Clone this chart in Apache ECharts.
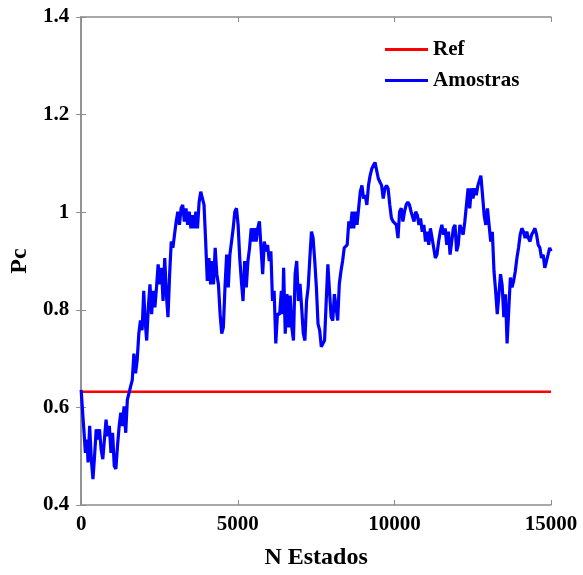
<!DOCTYPE html>
<html>
<head>
<meta charset="utf-8">
<script src="https://cdn.jsdelivr.net/npm/echarts@6/dist/echarts.min.js"></script>
<style>
  html, body { margin: 0; padding: 0; background: #fff; }
  #chart { width: 583px; height: 575px; }
</style>
</head>
<body>
<div id="chart"></div>
<script>
// reference level
const refLevel = 0.632;

const nStates = [
  0, 63, 94, 136, 188, 220, 272, 324, 377, 429, 481, 534, 586, 638, 691, 743, 795, 847, 900, 952,
  1004, 1057, 1109, 1161, 1214, 1266, 1318, 1370, 1423, 1475, 1527, 1580, 1632, 1684, 1737, 1789, 1841, 1893, 1946, 1998,
  2040, 2092, 2145, 2197, 2249, 2302, 2354, 2406, 2458, 2511, 2563, 2615, 2668, 2720, 2772, 2825, 2877, 2929, 2981, 3034,
  3086, 3138, 3191, 3243, 3295, 3348, 3400, 3452, 3504, 3557, 3609, 3661, 3714, 3766, 3818, 3871, 3923, 3975, 4027, 4080, 4132,
  4174, 4226, 4279, 4331, 4383, 4436, 4488, 4540, 4592, 4645, 4697, 4749, 4802, 4854, 4906, 4959, 5011, 5063, 5115, 5168,
  5220, 5272, 5325, 5377, 5429, 5482, 5534, 5586, 5638, 5691, 5743, 5795, 5848, 5900, 5952, 6005, 6057, 6109, 6161, 6214, 6266,
  6338, 6391, 6433, 6464, 6516, 6569, 6621, 6673, 6725, 6778, 6830, 6882, 6935, 6987, 7039, 7092, 7144, 7196, 7248, 7301,
  7353, 7405, 7458, 7510, 7562, 7615, 7667, 7719, 7771, 7824, 7876, 7928, 7981, 8033, 8085, 8138, 8190, 8242, 8294, 8347, 8399,
  8493, 8546, 8598, 8650, 8702, 8755, 8807, 8859, 8912, 8964, 9016, 9069, 9121, 9173, 9226, 9278, 9330, 9382, 9435, 9487,
  9539, 9592, 9644, 9696, 9749, 9801, 9853, 9905, 9958, 10010, 10062, 10115, 10167, 10219, 10272, 10324, 10376, 10428, 10481, 10533,
  10627, 10680, 10732, 10784, 10837, 10889, 10941, 10993, 11046, 11098, 11150, 11203, 11255, 11307, 11360, 11412, 11464, 11516, 11569, 11621,
  11673, 11726, 11778, 11830, 11883, 11935, 11987, 12039, 12092, 12144, 12196, 12249, 12301, 12353, 12406, 12458, 12510, 12562, 12615, 12667,
  12761, 12814, 12866, 12918, 12971, 13023, 13075, 13127, 13180, 13232, 13284, 13337, 13389, 13441, 13494, 13546, 13598, 13650, 13703, 13755,
  13807, 13860, 13912, 13964, 14017, 14069, 14121, 14173, 14226, 14278, 14330, 14383, 14435, 14487, 14540, 14592, 14644, 14696, 14749, 14801,
  14853, 14906, 14958, 15000
];

const pcSamples = [
  0.636, 0.575, 0.548, 0.507, 0.534, 0.487, 0.562, 0.494, 0.453, 0.501, 0.555, 0.534, 0.555, 0.514, 0.494, 0.534, 0.575, 0.541, 0.562, 0.507,
  0.548, 0.480, 0.474, 0.521, 0.562, 0.589, 0.562, 0.602, 0.548, 0.616, 0.629, 0.643, 0.656, 0.710, 0.670, 0.697, 0.751, 0.778, 0.758, 0.839,
  0.780, 0.737, 0.805, 0.852, 0.791, 0.839, 0.805, 0.846, 0.893, 0.852, 0.886, 0.818, 0.906, 0.832, 0.785, 0.873, 0.940, 0.927, 0.954, 0.981,
  1.001, 0.974, 1.008, 1.015, 0.981, 1.008, 0.974, 1.001, 0.967, 0.994, 0.967, 1.001, 0.967, 1.021, 1.042, 1.038, 1.015, 0.940, 0.859, 0.906, 0.852,
  0.900, 0.852, 0.927, 0.873, 0.852, 0.791, 0.751, 0.764, 0.846, 0.913, 0.846, 0.913, 0.940, 0.967, 1.001, 1.008, 0.974, 0.906, 0.859, 0.818,
  0.900, 0.846, 0.900, 0.927, 0.967, 0.940, 0.967, 0.940, 0.967, 0.981, 0.927, 0.873, 0.940, 0.920, 0.933, 0.900, 0.920, 0.818, 0.839, 0.731, 0.791,
  0.791, 0.839, 0.791, 0.886, 0.751, 0.832, 0.764, 0.829, 0.764, 0.737, 0.873, 0.900, 0.818, 0.853, 0.805, 0.751, 0.737, 0.818, 0.846, 0.906,
  0.960, 0.947, 0.900, 0.846, 0.771, 0.758, 0.724, 0.731, 0.737, 0.818, 0.893, 0.839, 0.785, 0.778, 0.832, 0.805, 0.778, 0.853, 0.879, 0.900, 0.927,
  0.933, 0.981, 0.967, 1.001, 0.967, 1.001, 0.974, 1.008, 1.042, 1.055, 1.028, 1.035, 1.015, 1.055, 1.075, 1.089, 1.096, 1.102, 1.099, 1.069,
  1.062, 1.055, 1.028, 1.048, 1.055, 1.048, 1.015, 0.988, 0.981, 0.981, 0.974, 0.947, 1.001, 1.008, 0.981, 1.001, 1.015, 1.021, 1.015, 1.001,
  0.981, 1.001, 0.994, 0.974, 0.987, 0.960, 0.974, 0.940, 0.960, 0.933, 0.967, 0.947, 0.927, 0.906, 0.913, 0.940, 0.960, 0.974, 0.954, 0.967,
  0.933, 0.960, 0.913, 0.913, 0.967, 0.974, 0.920, 0.933, 0.974, 0.974, 0.954, 0.981, 1.015, 1.049, 1.008, 1.049, 1.028, 1.049, 1.035, 1.055,
  1.075, 1.035, 0.994, 0.974, 1.008, 0.974, 0.940, 0.960, 0.879, 0.839, 0.791, 0.832, 0.873, 0.850, 0.785, 0.832, 0.731, 0.798, 0.866, 0.846,
  0.859, 0.879, 0.906, 0.927, 0.954, 0.967, 0.960, 0.947, 0.960, 0.947, 0.940, 0.954, 0.960, 0.967, 0.954, 0.933, 0.927, 0.906, 0.913, 0.886,
  0.899, 0.913, 0.927, 0.920
];

const xTicks = [0, 5000, 10000, 15000];
const yTicks = [0.4, 0.6, 0.8, 1, 1.2, 1.4];

const chart = echarts.init(document.getElementById('chart'));

const font = 'Liberation Serif, Times New Roman, serif';
const frameColor = '#8c8c8c';

const axisText = { color: '#000', fontFamily: font, fontWeight: 'bold', fontSize: 21 };

chart.setOption({
    animation: false,
    backgroundColor: '#fff',
    grid: { left: 75, right: 32, top: 17, bottom: 62, containLabel: false },
    legend: {
        orient: 'vertical',
        left: 380,
        top: 34,
        itemWidth: 43,
        itemHeight: 3,
        itemGap: 10,
        icon: 'rect',
        textStyle: { ...axisText, fontSize: 21, padding: [0, 0, 0, 0] },
        data: ['Ref', 'Amostras']
    },
    xAxis: [{
        type: 'value',
        min: xTicks[0], max: xTicks[xTicks.length - 1], interval: 5000,
        name: 'N Estados',
        nameLocation: 'middle',
        nameGap: 41,
        nameTextStyle: { ...axisText, fontSize: 24 },
        axisLine: { show: true, lineStyle: { color: frameColor, width: 1.5 } },
        axisTick: { show: true, inside: true, length: 5, lineStyle: { color: frameColor } },
        axisLabel: { ...axisText, margin: 9, formatter: v => String(v) },
        splitLine: { show: false }
    }, {
        type: 'value',
        position: 'top',
        min: xTicks[0], max: xTicks[xTicks.length - 1], interval: 5000,
        axisLine: { show: true, lineStyle: { color: frameColor, width: 1.5 } },
        axisTick: { show: true, inside: true, length: 5, lineStyle: { color: frameColor } },
        axisLabel: { show: false },
        splitLine: { show: false }
    }],
    yAxis: [{
        type: 'value',
        min: yTicks[0], max: yTicks[yTicks.length - 1], interval: 0.2,
        name: 'Pc',
        nameLocation: 'middle',
        nameGap: 40,
        nameTextStyle: { ...axisText, fontSize: 24 },
        axisLine: { show: true, lineStyle: { color: frameColor, width: 1.5 } },
        axisTick: { show: true, inside: true, length: 5, lineStyle: { color: frameColor } },
        axisLabel: {
            ...axisText, margin: 12,
            formatter: v => String(Math.round(v * 10) / 10)
        },
        splitLine: { show: false }
    }, {
        type: 'value',
        position: 'right',
        min: yTicks[0], max: yTicks[yTicks.length - 1], interval: 0.2,
        axisLine: { show: true, lineStyle: { color: frameColor, width: 1.5 } },
        axisTick: { show: true, inside: true, length: 5, lineStyle: { color: frameColor } },
        axisLabel: { show: false },
        splitLine: { show: false }
    }],
    series: [{
        name: 'Ref',
        type: 'line',
        data: [[xTicks[0], refLevel], [xTicks[xTicks.length - 1], refLevel]],
        symbol: 'none',
        lineStyle: { color: '#ff0000', width: 2.5 },
        itemStyle: { color: '#ff0000' },
        z: 2
    }, {
        name: 'Amostras',
        type: 'line',
        data: nStates.map((x, i) => [x, pcSamples[i]]),
        symbol: 'none',
        lineStyle: { color: '#0000ff', width: 3.2 },
        itemStyle: { color: '#0000ff' },
        z: 3
    }]
});
</script>
</body>
</html>
